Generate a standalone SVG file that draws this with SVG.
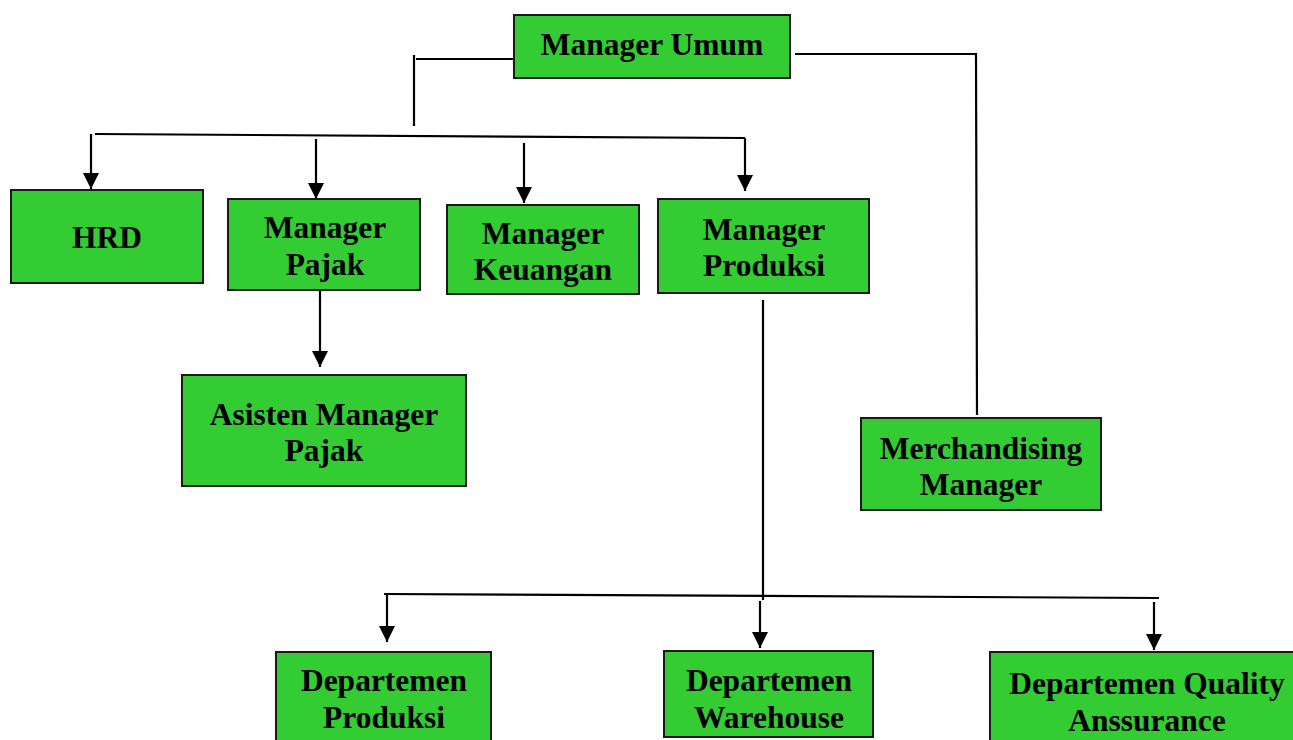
<svg xmlns="http://www.w3.org/2000/svg" width="1293" height="740" viewBox="0 0 1293 740">
<style>
.box{fill:#33cc33;stroke:#1a1a1a;stroke-width:2}
.t{font-family:"Liberation Serif","Times New Roman",serif;font-weight:bold;font-size:31.5px;text-anchor:middle;fill:#000}
.c{fill:none;stroke:#000;stroke-width:2.2}
</style>
<defs>
<marker id="ah" viewBox="0 0 16 16" refX="16" refY="8" markerWidth="16" markerHeight="16" markerUnits="userSpaceOnUse" orient="auto">
<path d="M0,0 L16,8 L0,16 Z" fill="#000"/>
</marker>
</defs>
<g id="connectors">
<path class="c" d="M416,59 L518,59"/>
<path class="c" d="M414,55 L414,126"/>
<path class="c" d="M95,134 L745,138"/>
<path class="c" d="M91,134 L91,189" marker-end="url(#ah)"/>
<path class="c" d="M316,139 L316,199" marker-end="url(#ah)"/>
<path class="c" d="M524,143 L524,203" marker-end="url(#ah)"/>
<path class="c" d="M745,138 L745,191" marker-end="url(#ah)"/>
<path class="c" d="M795,54 L976,54 L977,415"/>
<path class="c" d="M320,290 L320,367" marker-end="url(#ah)"/>
<path class="c" d="M763,300 L763,600"/>
<path class="c" d="M384,594 L1159,598"/>
<path class="c" d="M387,595 L387,642" marker-end="url(#ah)"/>
<path class="c" d="M760,601 L760,648" marker-end="url(#ah)"/>
<path class="c" d="M1154,602 L1154,650" marker-end="url(#ah)"/>
</g>
<g id="n-umum"><rect class="box" x="514" y="15" width="276" height="63"/><text class="t" x="652" y="55">Manager Umum</text></g>
<g id="n-hrd"><rect class="box" x="11" y="190" width="192" height="93"/><text class="t" x="107" y="248">HRD</text></g>
<g id="n-pajak"><rect class="box" x="228" y="199" width="192" height="91"/><text class="t" x="325" y="238">Manager</text><text class="t" x="325" y="275">Pajak</text></g>
<g id="n-keuangan"><rect class="box" x="447" y="205" width="192" height="89"/><text class="t" x="543" y="244">Manager</text><text class="t" x="543" y="280">Keuangan</text></g>
<g id="n-produksi"><rect class="box" x="658" y="199" width="211" height="94"/><text class="t" x="764" y="240">Manager</text><text class="t" x="764" y="276">Produksi</text></g>
<g id="n-asisten"><rect class="box" x="182" y="375" width="284" height="111"/><text class="t" x="324" y="425">Asisten Manager</text><text class="t" x="324" y="461">Pajak</text></g>
<g id="n-merch"><rect class="box" x="861" y="418" width="240" height="92"/><text class="t" x="981" y="459">Merchandising</text><text class="t" x="981" y="495">Manager</text></g>
<g id="n-dprod"><rect class="box" x="276" y="652" width="215" height="95"/><text class="t" x="384" y="691">Departemen</text><text class="t" x="384" y="728">Produksi</text></g>
<g id="n-dware"><rect class="box" x="664" y="651" width="209" height="86"/><text class="t" x="769" y="691">Departemen</text><text class="t" x="769" y="728">Warehouse</text></g>
<g id="n-dqa"><rect class="box" x="990" y="652" width="310" height="95"/><text class="t" x="1147" y="694">Departemen Quality</text><text class="t" x="1147" y="731">Anssurance</text></g>
</svg>
